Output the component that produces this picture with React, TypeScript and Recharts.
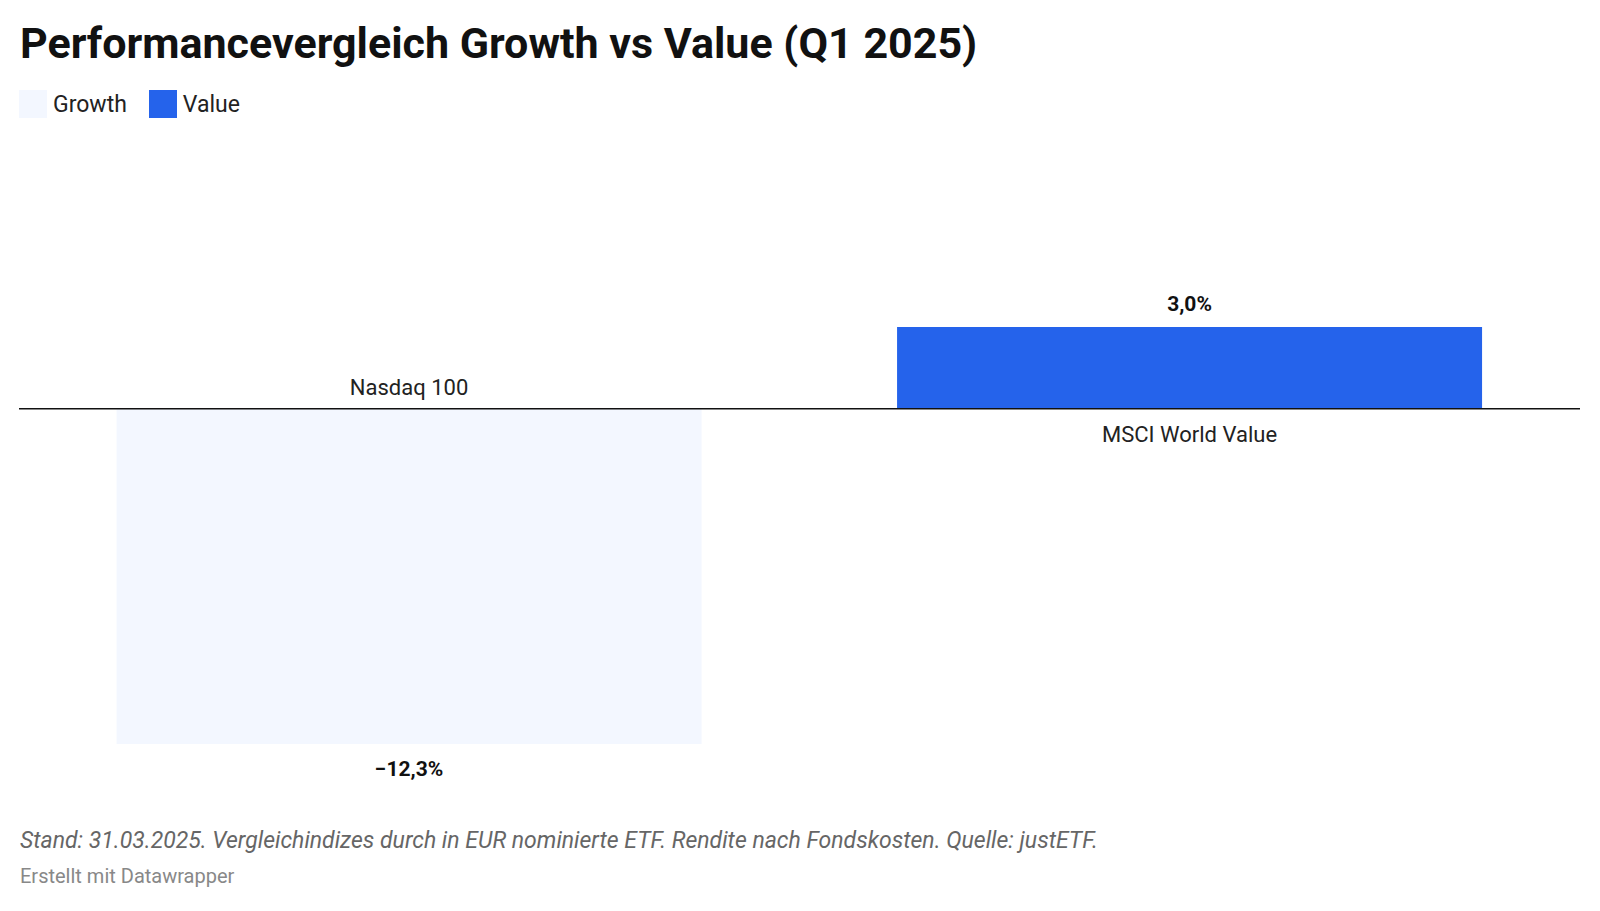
import { Bar, BarChart, Cell, LabelList, ReferenceLine, XAxis, YAxis } from "recharts"

const categories = ["Nasdaq 100", "MSCI World Value"]
const series = ["Growth", "Value"]
const values = [-12.3, 3.0]
const colors = ["#f3f7ff", "#2563eb"]

const data = categories.map((name, i) => ({ name, value: values[i], kind: series[i] }))

const fmt = (v: number) => (v < 0 ? "\u2212" : "") + Math.abs(v).toFixed(1).replace(".", ",") + "%"

// recharts may hand back a negative height for bars below zero
const span = (p: any) => {
  const top = Math.min(p.y, p.y + p.height)
  const bottom = Math.max(p.y, p.y + p.height)
  return { top, bottom, cx: p.x + p.width / 2 }
}

function ValueLabel(props: any) {
  const { top, bottom, cx } = span(props)
  const neg = props.value < 0
  const ty = neg ? bottom + 32 : top - 16
  return (
    <text x={cx} y={ty} textAnchor="middle" fontSize={21} fontWeight={700} fill="#111">
      {fmt(props.value)}
    </text>
  )
}

function NameLabel(props: any) {
  const { top, bottom, cx } = span(props)
  const neg = values[props.index] < 0
  const ty = neg ? top - 14 : bottom + 33
  return (
    <text x={cx} y={ty} textAnchor="middle" fontSize={22} fill="#222">
      {props.value}
    </text>
  )
}

export default function App() {
  return (
    <div style={{ position: "relative", width: 1600, height: 911, background: "#fff", fontFamily: "Roboto, sans-serif" }}>
      <style>{"body{margin:0}"}</style>
      <div style={{ position: "absolute", left: 20, top: 18, fontSize: 43, fontWeight: 700, color: "#111" }}>
        Performancevergleich Growth vs Value (Q1 2025)
      </div>
      <div style={{ position: "absolute", left: 19, top: 90, display: "flex", alignItems: "center", fontSize: 23, color: "#222" }}>
        {series.map((s, i) => (
          <span key={s} style={{ display: "flex", alignItems: "center", marginRight: 22 }}>
            <span style={{ width: 28, height: 28, background: colors[i], marginRight: 6, display: "inline-block" }} />
            {s}
          </span>
        ))}
      </div>
      <div style={{ position: "absolute", left: 19, top: 0 }}>
        <BarChart width={1561} height={911} data={data} margin={{ top: 327, bottom: 167, left: 0, right: 0 }} barCategoryGap="12.5%">
          <XAxis dataKey="name" hide />
          <YAxis hide domain={[-12.3, 3]} />
          <Bar dataKey="value" isAnimationActive={false}>
            {data.map((d, i) => (
              <Cell key={d.name} fill={colors[i]} />
            ))}
            <LabelList dataKey="value" content={ValueLabel} />
            <LabelList dataKey="name" content={NameLabel} />
          </Bar>
          <ReferenceLine y={0} stroke="#111" strokeWidth={1.5} />
        </BarChart>
      </div>
      <div style={{ position: "absolute", left: 20, top: 827, fontSize: 23, fontStyle: "italic", color: "#666" }}>
        Stand: 31.03.2025. Vergleichindizes durch in EUR nominierte ETF. Rendite nach Fondskosten. Quelle: justETF.
      </div>
      <div style={{ position: "absolute", left: 20, top: 864, fontSize: 20, color: "#888" }}>Erstellt mit Datawrapper</div>
    </div>
  )
}
